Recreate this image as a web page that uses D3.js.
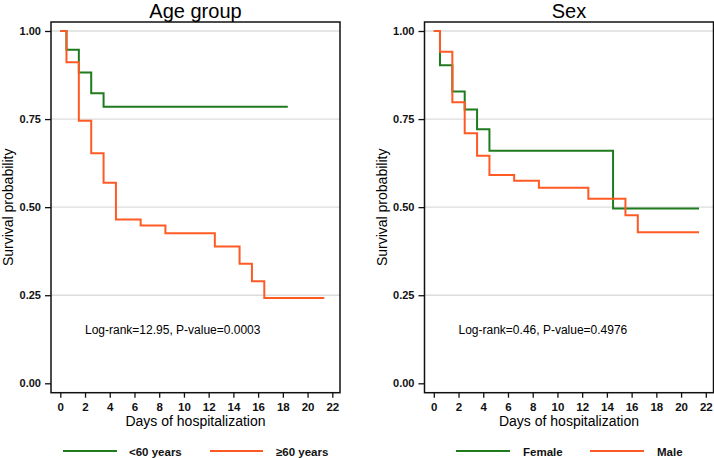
<!DOCTYPE html>
<html>
<head>
<meta charset="utf-8">
<script src="https://cdn.jsdelivr.net/npm/d3@7"></script>
<style>
  html, body { margin: 0; padding: 0; background: #fff; }
  svg { display: block; font-family: "Liberation Sans", Arial, sans-serif; }
</style>
</head>
<body>
<svg id="chart" width="714" height="458"></svg>
<script>
// ---------------- data ----------------
const xTickValues = [0, 2, 4, 6, 8, 10, 12, 14, 16, 18, 20, 22];
const yTickValues = [0, 0.25, 0.5, 0.75, 1];
const gridValues = [0.25, 0.5, 0.75, 1];

const panelTitles = ["Age group", "Sex"];
const annotations = ["Log-rank=12.95, P-value=0.0003", "Log-rank=0.46, P-value=0.4976"];
const xAxisTitle = "Days of hospitalization";
const yAxisTitle = "Survival probability";

// Age group panel
const ageYoungLabel = "<60 years";
const ageYoungTimes = [0, 0.5, 1.5, 2.5, 3.5, 18.4];
const ageYoungSurv  = [1, 0.947, 0.882, 0.823, 0.785, 0.785];
const ageOldLabel = "≥60 years";
const ageOldTimes = [0, 0.5, 1.5, 2.5, 3.5, 4.5, 6.5, 8.5, 12.5, 14.5, 15.5, 16.5, 21.35];
const ageOldSurv  = [1, 0.911, 0.745, 0.653, 0.569, 0.465, 0.448, 0.426, 0.388, 0.339, 0.290, 0.242, 0.242];

// Sex panel
const femaleLabel = "Female";
const femaleTimes = [0, 0.5, 1.5, 2.5, 3.5, 4.5, 14.5, 21.45];
const femaleSurv  = [1, 0.903, 0.828, 0.777, 0.721, 0.660, 0.496, 0.496];
const maleLabel = "Male";
const maleTimes = [0, 0.5, 1.5, 2.5, 3.5, 4.5, 6.5, 8.5, 12.5, 15.5, 16.5, 21.45];
const maleSurv  = [1, 0.941, 0.798, 0.710, 0.646, 0.591, 0.575, 0.555, 0.524, 0.477, 0.429, 0.429];

// ---------------- style ----------------
const GREEN = "#1e7b1e";
const ORANGE = "#ff5a24";
const FONT = "Liberation Sans, Arial, sans-serif";

const svg = d3.select("#chart");

const panels = [
  {
    offset: 0,
    title: panelTitles[0],
    note: annotations[0],
    series: [
      {label: ageYoungLabel, t: ageYoungTimes, s: ageYoungSurv, color: GREEN},
      {label: ageOldLabel, t: ageOldTimes, s: ageOldSurv, color: ORANGE}
    ],
    legend: [[63, 117, 129], [210, 263, 276]]
  },
  {
    offset: 373.5,
    title: panelTitles[1],
    note: annotations[1],
    series: [
      {label: femaleLabel, t: femaleTimes, s: femaleSurv, color: GREEN},
      {label: maleLabel, t: maleTimes, s: maleSurv, color: ORANGE}
    ],
    legend: [[456, 510, 523], [590, 644, 657]]
  }
];

panels.forEach(p => {
  const box = {left: 51 + p.offset, right: 340 + p.offset, top: 22, bottom: 392.7};
  const x = d3.scaleLinear().domain([0, 22]).range([60.3 + p.offset, 332.3 + p.offset]);
  const y = d3.scaleLinear().domain([0, 1]).range([383.3, 31]);
  const g = svg.append("g");

  // gridlines
  g.selectAll("line.grid").data(gridValues).join("line")
    .attr("class", "grid")
    .attr("x1", box.left).attr("x2", box.right)
    .attr("y1", d => y(d)).attr("y2", d => y(d))
    .attr("stroke", "#dcdcdc").attr("stroke-width", 1.3);

  // curves
  const line = d3.line().curve(d3.curveStepAfter).x(d => x(d[0])).y(d => y(d[1]));
  p.series.forEach(se => {
    const pts = se.t.map((t, i) => [t, se.s[i]]);
    g.append("path").datum(pts)
      .attr("d", line)
      .attr("fill", "none")
      .attr("stroke", se.color)
      .attr("stroke-width", 2);
  });

  // frame
  g.append("rect")
    .attr("x", box.left).attr("y", box.top)
    .attr("width", box.right - box.left).attr("height", box.bottom - box.top)
    .attr("fill", "none").attr("stroke", "#111").attr("stroke-width", 1.5);

  // y axis
  const ya = g.append("g").attr("transform", `translate(${box.left},0)`)
    .call(d3.axisLeft(y).tickValues(yTickValues).tickFormat(d3.format(".2f")).tickSize(6).tickPadding(4));
  ya.select(".domain").remove();
  ya.selectAll(".tick line").attr("stroke", "#111").attr("stroke-width", 1.3);
  ya.selectAll(".tick text").attr("font-size", 11).attr("fill", "#111")
    .attr("font-weight", "bold").attr("font-family", FONT);

  // x axis
  const xa = g.append("g").attr("transform", `translate(0,${box.bottom})`)
    .call(d3.axisBottom(x).tickValues(xTickValues).tickSize(5).tickPadding(5));
  xa.select(".domain").remove();
  xa.selectAll(".tick line").attr("stroke", "#111").attr("stroke-width", 1.3);
  xa.selectAll(".tick text").attr("font-size", 11.5).attr("fill", "#111")
    .attr("font-weight", "bold").attr("font-family", FONT);

  // title
  g.append("text")
    .attr("x", (box.left + box.right) / 2).attr("y", 18)
    .attr("text-anchor", "middle").attr("font-size", 20).attr("fill", "#000")
    .text(p.title);

  // axis titles
  g.append("text")
    .attr("x", (box.left + box.right) / 2).attr("y", 426)
    .attr("text-anchor", "middle").attr("font-size", 14).attr("fill", "#000")
    .text(xAxisTitle);
  g.append("text")
    .attr("transform", `translate(${13 + p.offset},${(box.top + box.bottom) / 2}) rotate(-90)`)
    .attr("text-anchor", "middle").attr("font-size", 14).attr("fill", "#000")
    .text(yAxisTitle);

  // annotation
  g.append("text")
    .attr("x", 85 + p.offset).attr("y", 334)
    .attr("font-size", 12).attr("fill", "#000")
    .text(p.note);

  // legend
  p.series.forEach((se, i) => {
    const [x1, x2, tx] = p.legend[i];
    g.append("line").attr("x1", x1).attr("x2", x2).attr("y1", 451).attr("y2", 451)
      .attr("stroke", se.color).attr("stroke-width", 2);
    g.append("text").attr("x", tx).attr("y", 455.5)
      .attr("font-size", 11.5).attr("font-weight", "bold").attr("fill", "#111").text(se.label);
  });
});
</script>
</body>
</html>
